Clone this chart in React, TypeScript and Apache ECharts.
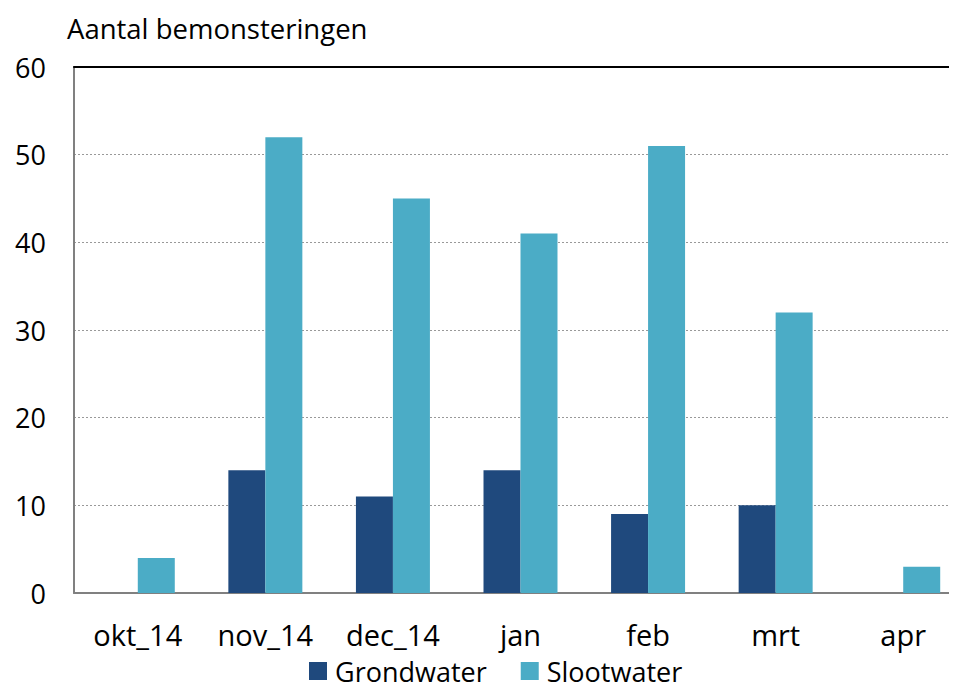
import React, { useEffect, useRef } from "react";
import * as echarts from "echarts";

const categories = ["okt_14", "nov_14", "dec_14", "jan", "feb", "mrt", "apr"];
const grondwater = [0, 14, 11, 14, 9, 10, 0];
const slootwater = [4, 52, 45, 41, 51, 32, 3];
const seriesNames = ["Grondwater", "Slootwater"];

const FONT = "'Open Sans', sans-serif";

export default function App() {
  const ref = useRef<HTMLDivElement>(null);
  useEffect(() => {
    const chart = echarts.init(ref.current!, null, { renderer: "svg" });
    chart.setOption({
      animation: false,
      textStyle: { fontFamily: FONT },
      title: {
        text: "Aantal bemonsteringen",
        left: 54,
        top: 1,
        textStyle: { fontSize: 27.5, fontWeight: "normal", color: "#000", fontFamily: FONT },
      },
      legend: {
        bottom: -2,
        left: 301,
        itemWidth: 18,
        itemHeight: 18,
        itemGap: 34,
        icon: "rect",
        padding: 0,
        textStyle: { fontSize: 27, color: "#000", fontFamily: FONT, padding: [0, 0, 0, 3], lineHeight: 30 },
        data: seriesNames,
      },
      grid: { left: 66, right: 0, top: 59, bottom: 91, containLabel: false },
      xAxis: [
        {
          type: "category",
          data: categories,
          axisLine: { lineStyle: { color: "#808080", width: 2 } },
          axisTick: { show: false },
          axisLabel: { fontSize: 29, color: "#000", margin: 25, fontFamily: FONT, lineHeight: 32 },
        },
        {
          type: "category",
          data: categories,
          position: "top",
          axisLine: { show: true, lineStyle: { color: "#000", width: 2 } },
          axisTick: { show: false },
          axisLabel: { show: false },
        },
      ],
      yAxis: {
        type: "value",
        min: 0,
        max: 60,
        interval: 10,
        axisLine: { show: true, lineStyle: { color: "#808080", width: 2 } },
        axisTick: { show: false },
        axisLabel: { fontSize: 27, color: "#000", margin: 28, fontFamily: FONT },
        splitLine: { lineStyle: { color: "#999", type: [2, 2], width: 1 } },
      },
      series: [
        {
          name: seriesNames[0],
          type: "bar",
          data: grondwater,
          barWidth: "29%",
          barGap: "0%",
          itemStyle: { color: "#1F497D" },
        },
        {
          name: seriesNames[1],
          type: "bar",
          data: slootwater,
          barWidth: "29%",
          itemStyle: { color: "#4BACC6" },
        },
      ],
    });
    return () => chart.dispose();
  }, []);
  return (
    <div style={{ width: 949, height: 674, overflow: "hidden" }}>
      <div ref={ref} style={{ width: 959, height: 676 }} />
    </div>
  );
}
